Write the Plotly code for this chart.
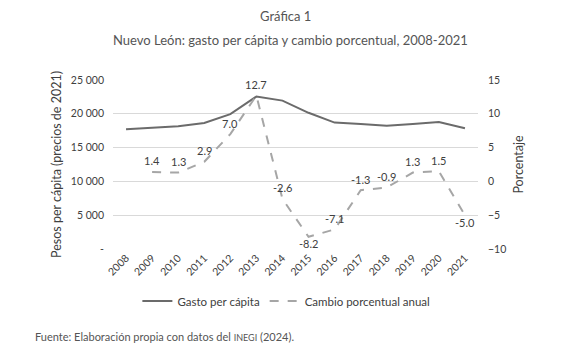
import plotly.graph_objects as go

years = [str(y) for y in range(2008, 2022)]
gasto = [17700, 17950, 18150, 18650, 19950, 22550, 21950, 20150, 18700, 18500, 18250, 18500, 18800, 17850]
cambio_years = [str(y) for y in range(2009, 2022)]
cambio = [1.4, 1.3, 2.9, 7.0, 12.7, -2.6, -8.2, -7.1, -1.3, -0.9, 1.3, 1.5, -5.0]
label_below = [False] * 6 + [True] + [False] * 5 + [True]

left_ticks = [0, 5000, 10000, 15000, 20000, 25000]
left_text = ["-", "5 000", "10 000", "15 000", "20 000", "25 000"]
right_ticks = [-10, -5, 0, 5, 10, 15]

FONT = "Lato"
TXT = "#404040"

fig = go.Figure()
fig.add_trace(go.Scatter(
    x=years, y=gasto, name="Gasto per cápita", mode="lines",
    line=dict(color="#6b6b6b", width=2), yaxis="y"))
fig.add_trace(go.Scatter(
    x=cambio_years, y=cambio, name="Cambio porcentual anual", mode="lines",
    line=dict(color="#a6a6a6", width=2, dash="dash"), yaxis="y2"))

# pixel geometry of the plot area
pl, pr, pt, pb = 113, 478, 80, 249
def px(x):
    return (x - pl) / (pr - pl)
def py(y):
    return (pb - y) / (pb - pt)

anns = []
for yr, v, below in zip(cambio_years, cambio, label_below):
    anns.append(dict(x=years.index(yr), y=v, xref="x", yref="y2", text=f"{v:.1f}", showarrow=False,
                     yshift=-7 if below else 11, xanchor="center", yanchor="middle",
                     font=dict(size=11, color=TXT, family=FONT)))

anns += [
    dict(text="Gráfica 1", x=px(285), y=py(16), xref="paper", yref="paper", showarrow=False,
         xanchor="center", yanchor="middle", font=dict(size=13, color="#555555")),
    dict(text="Nuevo León: gasto per cápita y cambio porcentual, 2008-2021", x=px(290), y=py(40),
         xref="paper", yref="paper", showarrow=False, xanchor="center", yanchor="middle",
         font=dict(size=13, color="#555555")),
    dict(text="Fuente: Elaboración propia con datos del <span style='font-size:9px'>INEGI</span> (2024).",
         x=px(33), y=py(336), xref="paper", yref="paper", showarrow=False,
         xanchor="left", yanchor="middle", font=dict(size=11, color="#555555")),
]

fig.update_layout(
    width=580, height=361,
    margin=dict(l=pl, r=580 - pr, t=pt, b=361 - pb),
    paper_bgcolor="white", plot_bgcolor="white",
    font=dict(family=FONT, color=TXT, size=11),
    showlegend=True,
    legend=dict(orientation="h", x=0.475, xanchor="center", y=py(301), yanchor="middle",
                font=dict(size=11.5, color=TXT), tracegroupgap=0),
    xaxis=dict(type="category", categoryorder="array", categoryarray=years,
               tickangle=-45, showgrid=False, showline=False, ticks="", automargin=False,
               tickfont=dict(size=10.5, color=TXT), range=[-0.5, 13.5]),
    yaxis=dict(range=[0, 25000], tickvals=left_ticks, ticktext=left_text, automargin=False,
               showgrid=True, gridcolor="#d9d9d9", gridwidth=1, zeroline=False,
               showline=False, ticks="", tickfont=dict(size=10.5, color=TXT), ticklabelstandoff=8,
               title=dict(text="Pesos per cápita (precios de 2021)", font=dict(size=12.5, color=TXT), standoff=6)),
    yaxis2=dict(range=[-10, 15], tickvals=right_ticks, overlaying="y", side="right", automargin=False,
                showgrid=False, zeroline=False, showline=False, ticks="",
                tickfont=dict(size=10.5, color=TXT), ticklabelstandoff=9,
                title=dict(text="Porcentaje", font=dict(size=12.5, color=TXT), standoff=8)),
    annotations=anns,
)

fig.write_html("out.html", config={"displayModeBar": False},
               post_script="document.body.style.margin='0';")
